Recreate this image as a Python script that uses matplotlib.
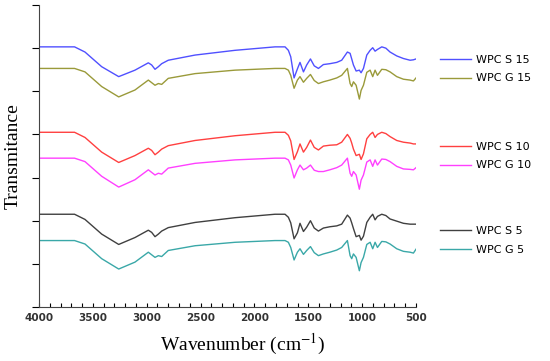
import numpy as np
import matplotlib.pyplot as plt

# wavenumbers (cm-1)
wn = [4000, 3670, 3573, 3418, 3260, 3109, 2985, 2954, 2923, 2892, 2861, 2800,
      2551, 2180, 1809, 1716, 1685, 1663, 1632, 1601, 1577, 1545, 1515, 1480,
      1445, 1406, 1360, 1300, 1236, 1190, 1137, 1112, 1097, 1081, 1056, 1026,
      1010, 988, 957, 926, 902, 880, 858, 818, 780, 741, 679, 617, 555, 524, 500]

# transmittance (offset, arbitrary units)
s15 = [60.3, 60.3, 59.1, 55.7, 53.4, 54.9, 56.6, 56.1, 55.1, 55.7, 56.4, 57.2,
       58.4, 59.5, 60.3, 60.3, 59.5, 58.0, 53.1, 55.2, 56.7, 54.5, 56.1, 57.5,
       55.9, 55.3, 56.2, 56.4, 56.7, 57.2, 59.1, 58.8, 57.5, 56.1, 54.7, 54.9,
       54.3, 55.3, 58.4, 59.5, 60.1, 59.3, 59.7, 60.3, 60.0, 59.1, 58.2, 57.6,
       57.2, 57.3, 57.5]
g15 = [55.3, 55.3, 54.5, 51.1, 48.7, 50.3, 52.6, 52.0, 51.4, 51.8, 51.6, 53.0,
       54.1, 54.9, 55.3, 55.3, 54.9, 53.7, 50.7, 52.6, 53.4, 52.1, 53.0, 53.9,
       52.5, 51.8, 52.2, 52.6, 53.1, 53.7, 55.3, 51.8, 51.1, 52.2, 51.4, 48.2,
       50.2, 51.4, 54.4, 54.9, 53.4, 54.9, 53.7, 55.1, 55.0, 54.5, 53.4, 52.8,
       52.6, 52.4, 53.1]
s10 = [40.5, 40.5, 39.3, 35.9, 33.5, 35.1, 36.8, 36.3, 35.3, 35.9, 36.6, 37.4,
       38.6, 39.7, 40.5, 40.5, 39.8, 38.5, 34.2, 36.0, 37.8, 35.9, 37.0, 38.7,
       37.0, 36.4, 37.3, 37.5, 37.6, 38.2, 40.0, 39.1, 38.0, 36.6, 35.1, 35.4,
       34.2, 35.5, 39.0, 40.0, 40.5, 39.3, 40.0, 40.5, 40.2, 39.5, 38.6, 38.2,
       38.0, 37.8, 37.8]
g10 = [34.5, 34.5, 33.7, 30.3, 27.8, 29.5, 31.8, 31.2, 30.6, 31.0, 30.8, 32.2,
       33.3, 34.1, 34.5, 34.5, 34.1, 32.9, 29.9, 31.8, 32.9, 31.8, 32.2, 32.9,
       31.7, 31.4, 31.4, 31.8, 32.3, 32.9, 34.5, 31.0, 30.3, 31.4, 30.6, 27.3,
       29.4, 30.6, 33.6, 34.1, 32.6, 34.1, 32.9, 34.3, 34.2, 33.7, 32.6, 32.0,
       31.9, 31.8, 32.3]
s5 = [21.5, 21.5, 20.3, 16.9, 14.5, 16.1, 17.8, 17.3, 16.3, 16.9, 17.6, 18.4,
      19.6, 20.7, 21.5, 21.5, 20.8, 19.5, 15.8, 17.2, 19.4, 17.5, 18.5, 20.0,
      18.3, 17.6, 18.3, 18.6, 18.8, 19.2, 21.3, 20.6, 19.5, 18.2, 16.3, 16.6,
      15.5, 16.4, 19.6, 20.8, 21.5, 20.2, 21.0, 21.5, 21.2, 20.4, 19.9, 19.4,
      19.2, 19.2, 19.2]
g5 = [15.4, 15.4, 14.6, 11.2, 8.8, 10.4, 12.7, 12.1, 11.5, 11.9, 11.7, 13.1,
      14.2, 15.0, 15.4, 15.4, 15.0, 13.8, 10.9, 12.7, 13.5, 12.2, 13.1, 14.0,
      12.6, 11.9, 12.3, 12.7, 13.2, 13.8, 15.4, 11.9, 11.2, 12.3, 11.5, 8.4,
      10.3, 11.5, 14.5, 15.0, 13.5, 15.0, 13.8, 15.2, 15.1, 14.6, 13.5, 12.9,
      12.7, 12.5, 13.4]

labels = ['WPC S 15', 'WPC G 15', 'WPC S 10', 'WPC G 10', 'WPC S 5', 'WPC G 5']
colors = ['#5050ff', '#9a9a3a', '#ff4040', '#ff40ff', '#404040', '#3aa8a8']
series = [s15, g15, s10, g10, s5, g5]

plt.rcParams['mathtext.fontset'] = 'stix'

fig = plt.figure(figsize=(5.5, 3.61), dpi=100)
ax = fig.add_axes([0.0709, 0.1496, 0.6855, 0.8365])

lines = []
for y, c, lab in zip(series, colors, labels):
    ln, = ax.plot(wn, y, color=c, lw=1.0, label=lab)
    lines.append(ln)

ax.set_xlim(4000, 500)
ax.set_ylim(0, 70)
ax.set_xticks(np.arange(4000, 499, -500))
ax.set_xticks(np.arange(4000, 499, -100), minor=True)
ax.set_yticks(np.arange(0, 71, 10))
ax.set_yticklabels([])
ax.tick_params(axis='x', which='both', direction='in', length=3, width=0.8,
               labelsize=7.5, pad=4)
ax.tick_params(axis='y', direction='out', length=5, width=0.8)
for lbl in ax.get_xticklabels():
    lbl.set_fontweight('bold')
    lbl.set_color('#333333')
for side in ['top', 'right']:
    ax.spines[side].set_visible(False)
for side in ['left', 'bottom']:
    ax.spines[side].set_color('#444444')

ax.set_xlabel('Wavenumber (cm$^{-1}$)', family='Liberation Serif', fontsize=14)
ax.xaxis.set_label_coords(0.54, -0.082)
ax.set_ylabel('Transmitance', family='Liberation Serif', fontsize=14)
ax.yaxis.set_label_coords(-0.047, 0.5)

# three legend groups next to the curve pairs
for i, yc in enumerate([0.809, 0.568, 0.335]):
    fig.legend(lines[2 * i:2 * i + 2], labels[2 * i:2 * i + 2],
               loc='center left', bbox_to_anchor=(0.80, yc),
               frameon=False, fontsize=8, borderpad=0, borderaxespad=0,
               handlelength=2.8, handletextpad=0.4, labelspacing=0.8)

fig.savefig('out.png', dpi=100)
